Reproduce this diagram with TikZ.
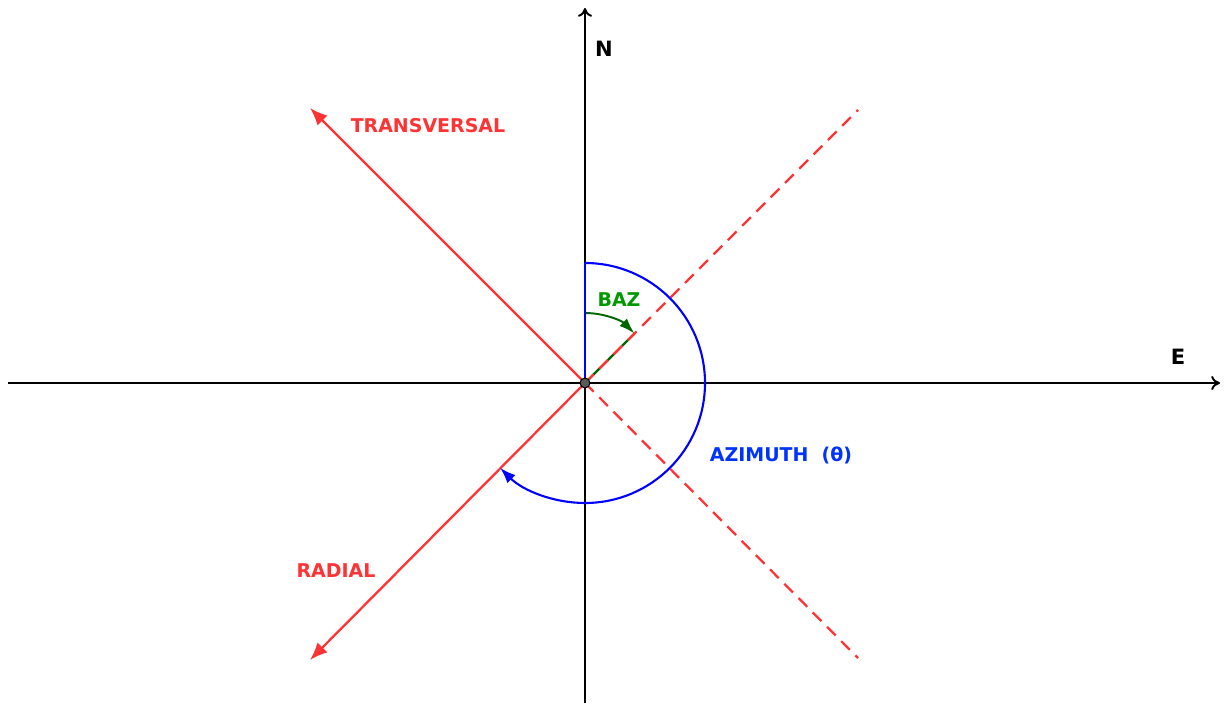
\documentclass[tikz,border=0pt]{standalone}
\usepackage{fontspec}
\setmainfont{DejaVu Sans}
\usepackage{tikz}
\usetikzlibrary{positioning, arrows.meta, calc}
\usepackage{xcolor}
\definecolor{compred}{HTML}{FF3333}
\definecolor{azblue}{HTML}{0000FF}
\definecolor{azlabel}{HTML}{0033FF}
\definecolor{bazgreen}{HTML}{009900}
\definecolor{bazarc}{HTML}{006600}

\begin{document}
\begin{tikzpicture}[
  x=0.02cm, y=0.02cm,
  every node/.style={font=\bfseries\fontsize{10.8}{12}\selectfont},
  axis/.style={-{To[length=5pt, width=8pt]}, line width=1.1pt, black},
  comp/.style={-{Latex[length=10pt, width=8pt]}, line width=1.3pt, compred},
  ext/.style={line width=1.3pt, compred, dash pattern=on 7pt off 4.5pt},
  lbl/.style={inner sep=0pt},
  axlbl/.style={lbl, font=\bfseries\fontsize{12}{14}\selectfont}
]
\useasboundingbox (0,0) rectangle (1228,704);

% reference points
\coordinate (o) at (585,321);
\coordinate (w) at (8,321);
\coordinate (e) at (1220,321);
\coordinate (s) at (585,1);
\coordinate (n) at (585,696);
\coordinate (tr) at (310,596);
\coordinate (rad) at (310,44);
\coordinate (ne) at (858,594);
\coordinate (se) at (858,46);
\coordinate (north) at (585,441);
\coordinate (bazend) at ($(o)+(45:1.4cm)$);

% axes
\draw[axis] (w) -- (e);
\draw[axis] (s) -- (n);

% back azimuth
\draw[bazarc, line width=1.3pt] (o) -- (bazend);
\draw[-{Latex[length=9pt, width=6pt]}, bazarc, line width=1.1pt]
  (585,391) arc[start angle=90, end angle=45, radius=70];

% components
\draw[ext] (o) -- (ne);
\draw[ext] (o) -- (se);
\draw[comp] (o) -- (tr);
\draw[comp] (o) -- (rad);

% azimuth
\draw[azblue, line width=1.2pt] (o) -- (north);
\draw[-{Latex[length=9pt, width=6.5pt]}, azblue, line width=1.2pt]
  (north) arc[start angle=90, end angle=-135, radius=120];

\filldraw[fill=black!65, draw=black, line width=0.6pt] (o) circle (5);

% labels
\node[axlbl] (nlab) at (604,655) {N};
\node[axlbl] (elab) at (1178,347) {E};
\node[lbl, compred] (trlab) at (428,578) {TRANSVERSAL};
\node[lbl, compred] (radlab) at (336,133) {RADIAL};
\node[lbl, bazgreen] (bazlab) at (619,404) {BAZ};
\node[lbl, azlabel] (azlab) at (781,249) {AZIMUTH\ \ (θ)};
\end{tikzpicture}
\end{document}
